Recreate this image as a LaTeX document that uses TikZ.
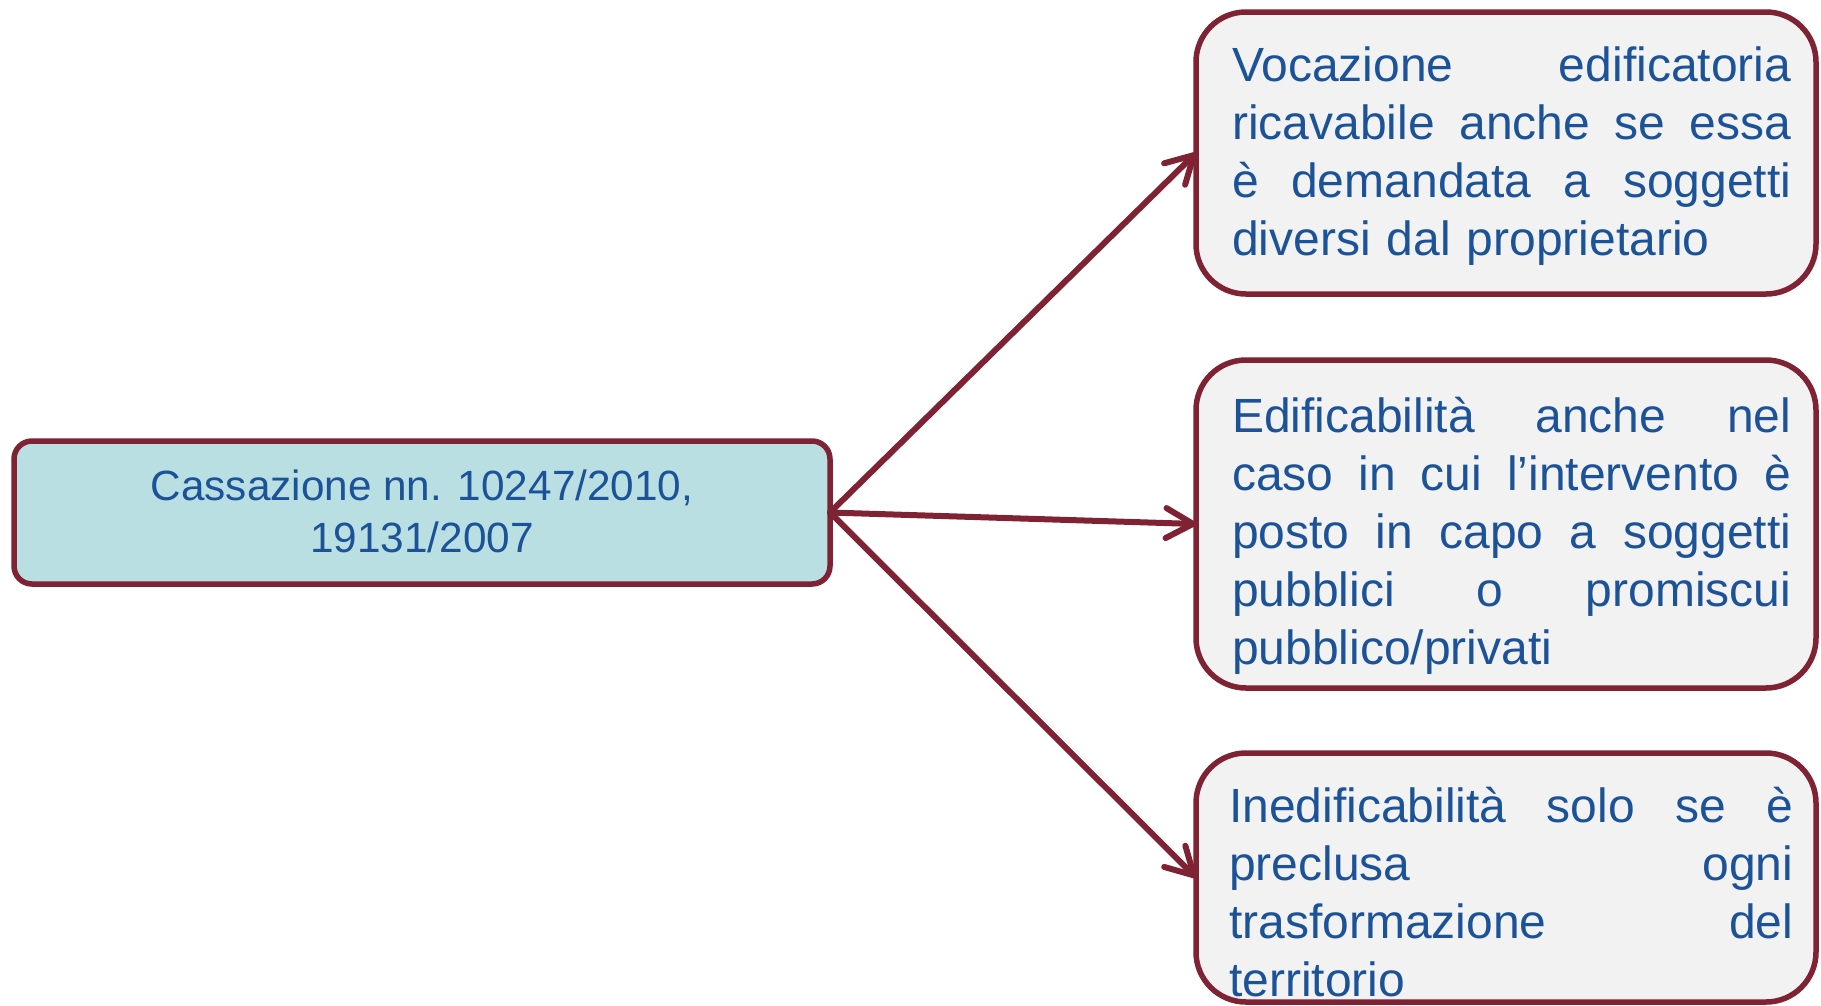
\documentclass[tikz,border=0pt]{standalone}
\usepackage{fontspec}
\setmainfont{Liberation Sans}
\usetikzlibrary{arrows.meta}
\definecolor{maroon}{RGB}{127,34,51}
\definecolor{inkblue}{RGB}{28,82,152}
\definecolor{tealfill}{RGB}{185,223,227}
\definecolor{greyfill}{RGB}{242,242,242}
\begin{document}
\begin{tikzpicture}[x=1pt,y=-1pt,
  box/.style={draw=maroon,line width=5.5pt,anchor=north west,inner sep=0pt,outer sep=0pt},
  srcbox/.style={box,fill=tealfill,rounded corners=18pt},
  outbox/.style={box,fill=greyfill,rounded corners=50pt,minimum width=620pt},
  outtext/.style={anchor=base west,inner sep=0pt,text width=559pt,align=left,
    text=inkblue,font=\fontsize{48}{58}\selectfont},
  link/.style={draw=maroon,line width=6pt,line cap=round,
    -{Straight Barb[length=27pt,width=30pt,round]}}]
\useasboundingbox (0,0) rectangle (1821,1005);

% source box
\node[srcbox,minimum width=816pt,minimum height=143pt] (src) at (14,441) {};
\node[anchor=base,inner sep=0pt,align=center,text=inkblue,
  font=\fontsize{42.3}{52}\selectfont] (srctext) at (422,552)
  {Cassazione nn. 10247/2010,\\19131/2007};

% outcome boxes
\node[outbox,minimum height=282pt] (t1) at (1196,12) {};
\node[outbox,minimum height=328pt] (t2) at (1196,360) {};
\node[outbox,minimum height=249pt] (t3) at (1196,753) {};

\node[outtext] (t1text) at (1232,81)
  {Vocazione\hfill edificatoria\\
   ricavabile\hfill anche\hfill se\hfill essa\\
   è\hfill demandata\hfill a\hfill soggetti\\
   diversi dal proprietario};
\node[outtext] (t2text) at (1232,432)
  {Edificabilità\hfill anche\hfill nel\\
   caso\hfill in\hfill cui\hfill l’intervento\hfill è\\
   posto\hfill in\hfill capo\hfill a\hfill soggetti\\
   pubblici\hfill o\hfill promiscui\\
   pubblico/privati};
\node[outtext,text width=564pt] (t3text) at (1229,822)
  {Inedificabilità\hfill solo\hfill se\hfill è\\
   preclusa\hfill ogni\\
   trasformazione\hfill del\\
   territorio};

% connectors
\draw[link] (src.east) -- (t1.west);
\draw[link] (src.east) -- (t2.west);
\draw[link] (src.east) -- (t3.west);
\end{tikzpicture}
\end{document}
